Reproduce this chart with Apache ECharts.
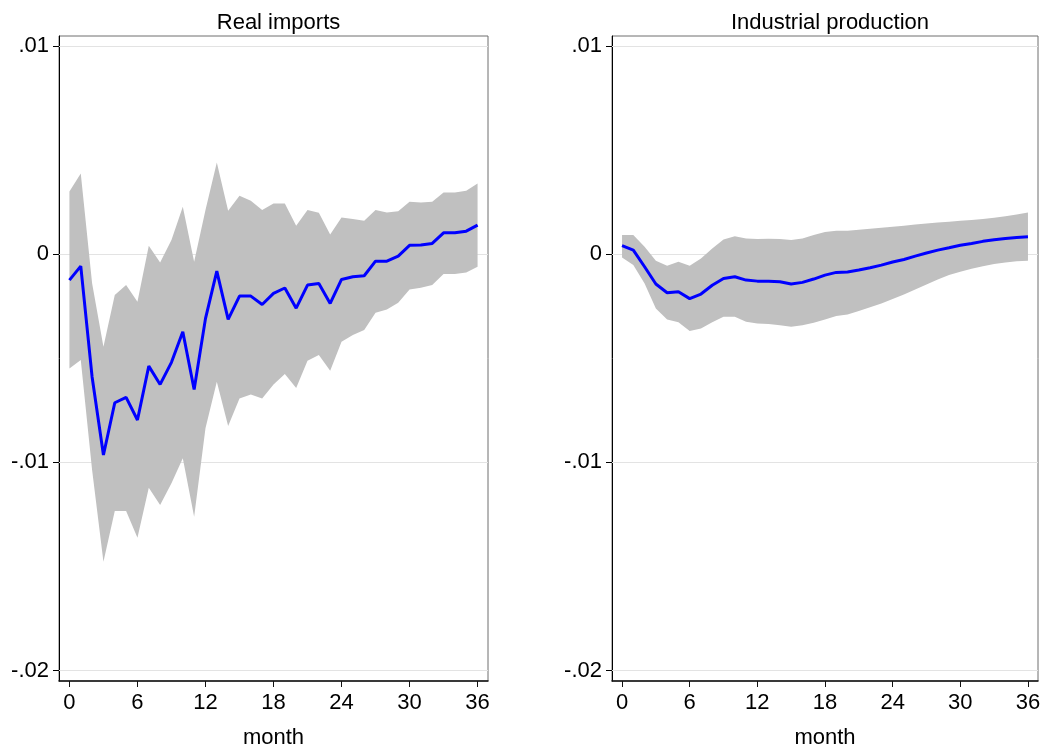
<!DOCTYPE html>
<html>
<head>
<meta charset="utf-8">
<script src="https://cdn.jsdelivr.net/npm/echarts@6/dist/echarts.min.js"></script>
<style>
  html, body { margin: 0; padding: 0; background: #ffffff; }
  #chart { width: 1045px; height: 747px; }
</style>
</head>
<body>
<div id="chart"></div>
<script>
// Impulse responses over 0..36 months with confidence bands
const months = Array.from({ length: 37 }, (_, i) => i);
const xTicks = [0, 6, 12, 18, 24, 30, 36];
const yTicks = [-0.02, -0.01, 0, 0.01];
const panelTitles = ['Real imports', 'Industrial production'];

const importsIrf = [
  -0.00125, -0.00058, -0.0059, -0.00965, -0.00714, -0.00688, -0.00797, -0.00538, -0.00626, -0.0052,
  -0.00373, -0.0065, -0.0031, -0.00082, -0.00314, -0.00202, -0.00202, -0.00242, -0.00189, -0.00163,
  -0.0026, -0.00149, -0.00141, -0.00237, -0.00122, -0.00109, -0.00104, -0.00034, -0.00034, -0.0001,
  0.00042, 0.00043, 0.00051, 0.00102, 0.00102, 0.0011, 0.00139
];
const importsUpper = [
  0.003, 0.00387, -0.0014, -0.00445, -0.00197, -0.00149, -0.00229, 0.0004, -0.0004, 0.00067,
  0.00227, -0.00037, 0.00211, 0.0044, 0.00208, 0.0028, 0.00256, 0.00211, 0.00243, 0.00243,
  0.00136, 0.00211, 0.00198, 0.00094, 0.00176, 0.00168, 0.0016, 0.00211, 0.002, 0.00206,
  0.00251, 0.00248, 0.00251, 0.00296, 0.00296, 0.00304, 0.00339
];
const importsLower = [
  -0.00549, -0.00509, -0.01037, -0.01477, -0.01234, -0.01234, -0.01362, -0.01122, -0.01205, -0.01101,
  -0.00981, -0.01261, -0.00837, -0.00613, -0.00826, -0.00693, -0.00674, -0.00693, -0.00626, -0.00576,
  -0.00643, -0.00512, -0.00485, -0.0056, -0.00421, -0.00389, -0.00365, -0.00282, -0.00266, -0.00234,
  -0.0017, -0.00162, -0.00149, -0.00096, -0.00096, -0.00088, -0.00061
];

const prodIrf = [
  0.0004, 0.00019, -0.00061, -0.00144, -0.00186, -0.00181, -0.00214, -0.00192, -0.0015, -0.00117,
  -0.00109, -0.00125, -0.0013, -0.0013, -0.00133, -0.00144, -0.00136, -0.0012, -0.00101, -0.00088,
  -0.00086, -0.00077, -0.00066, -0.00053, -0.00038, -0.00026, -0.0001, 0.00005, 0.00019, 0.0003,
  0.00042, 0.00051, 0.00061, 0.00069, 0.00075, 0.0008, 0.00083
];
const prodUpper = [
  0.00091, 0.00091, 0.00035, -0.00032, -0.00056, -0.00037, -0.00056, -0.00021, 0.00027, 0.0007,
  0.00086, 0.00075, 0.00072, 0.00074, 0.00072, 0.00067, 0.00075, 0.00091, 0.00106, 0.00112,
  0.00112, 0.00117, 0.00122, 0.00126, 0.00131, 0.00136, 0.00142, 0.00147, 0.00152, 0.00155,
  0.0016, 0.00163, 0.00168, 0.00174, 0.00182, 0.0019, 0.002
];
const prodLower = [
  -0.00016, -0.00053, -0.00141, -0.00261, -0.00314, -0.00328, -0.0037, -0.00357, -0.00328, -0.00301,
  -0.00301, -0.00325, -0.00333, -0.00336, -0.00342, -0.00349, -0.00342, -0.0033, -0.00314, -0.00298,
  -0.0029, -0.00274, -0.00256, -0.00237, -0.00216, -0.00194, -0.0017, -0.00146, -0.00122, -0.00101,
  -0.00085, -0.0007, -0.00058, -0.00048, -0.0004, -0.00035, -0.00032
];

const FONT = '"Liberation Sans", Arial, Helvetica, sans-serif';
const FS = 22;
const BAND = '#c0c0c0';
const LINE = '#0000ff';

function fmtY(v) {
  if (Math.abs(v) < 1e-12) return '0';
  const s = Math.abs(v).toFixed(2).slice(1);
  return (v < 0 ? '-' : '') + s;
}

const grids = [
  { left: 59, right: 1045 - 488, top: 36, bottom: 747 - 681 },
  { left: 612, right: 1045 - 1038, top: 36, bottom: 747 - 681 }
];
const xRanges = [[-0.92, 36.92], [-0.89, 36.89]];

function xAxisFor(i) {
  return {
    type: 'value', gridIndex: i, min: xRanges[i][0], max: xRanges[i][1],
    name: 'month', nameLocation: 'middle', nameGap: 46,
    nameTextStyle: { fontFamily: FONT, fontSize: FS, color: '#000' },
    axisLine: { show: true, onZero: false, lineStyle: { color: '#111', width: 1.5 } },
    axisTick: { show: true, length: 6, customValues: xTicks, lineStyle: { color: '#111' } },
    axisLabel: { customValues: xTicks, margin: 11, fontFamily: FONT, fontSize: FS, color: '#000' },
    splitLine: { show: false }
  };
}
function yAxisFor(i) {
  return {
    type: 'value', gridIndex: i, min: -0.0205, max: 0.01047,
    axisLine: { show: true, onZero: false, lineStyle: { color: '#000', width: 1 } },
    axisTick: { show: true, length: 6, customValues: yTicks, lineStyle: { color: '#000' } },
    axisLabel: { customValues: yTicks, margin: 10, fontFamily: FONT, fontSize: FS, color: '#000', formatter: fmtY },
    splitLine: { show: false }
  };
}

// Confidence band: one polygon running along the upper bound and back along the lower bound
function bandSeries(i, lower, upper) {
  const rows = months.map((m, k) => [m, lower[k], upper[k]]);
  return {
    type: 'custom', xAxisIndex: i, yAxisIndex: i, data: rows, silent: true, z: 2,
    encode: { x: 0, y: [1, 2] },
    renderItem: function (params, api) {
      if (params.dataIndex !== 0) return null;
      const top = rows.map(r => api.coord([r[0], r[2]]));
      const bottom = rows.slice().reverse().map(r => api.coord([r[0], r[1]]));
      return {
        type: 'polygon',
        shape: { points: top.concat(bottom) },
        style: { fill: BAND, stroke: null }
      };
    }
  };
}

function panelSeries(i, lower, upper, irf) {
  const line = irf.map((v, k) => [months[k], v]);
  return [
    bandSeries(i, lower, upper),
    {
      type: 'line', xAxisIndex: i, yAxisIndex: i, data: line,
      symbol: 'none', lineStyle: { color: LINE, width: 3 }, z: 3,
      markLine: {
        silent: true, symbol: 'none', label: { show: false }, z: 1,
        lineStyle: { color: '#e3e3e3', width: 1, type: 'solid' },
        data: yTicks.map(v => ({ yAxis: v }))
      }
    }
  ];
}

const chart = echarts.init(document.getElementById('chart'), null, { renderer: 'canvas' });
chart.setOption({
  backgroundColor: '#ffffff',
  animation: false,
  title: panelTitles.map((t, i) => ({
    text: t,
    left: (grids[i].left + (1045 - grids[i].right)) / 2,
    textAlign: 'center',
    top: 7,
    textStyle: { fontFamily: FONT, fontSize: FS, fontWeight: 'normal', color: '#000' }
  })),
  grid: grids.map(g => Object.assign({
    show: true, borderColor: '#6e6e6e', borderWidth: 1, backgroundColor: 'transparent',
    containLabel: false, outerBoundsMode: 'none'
  }, g)),
  xAxis: [xAxisFor(0), xAxisFor(1)],
  yAxis: [yAxisFor(0), yAxisFor(1)],
  series: [
    ...panelSeries(0, importsLower, importsUpper, importsIrf),
    ...panelSeries(1, prodLower, prodUpper, prodIrf)
  ]
});
</script>
</body>
</html>
